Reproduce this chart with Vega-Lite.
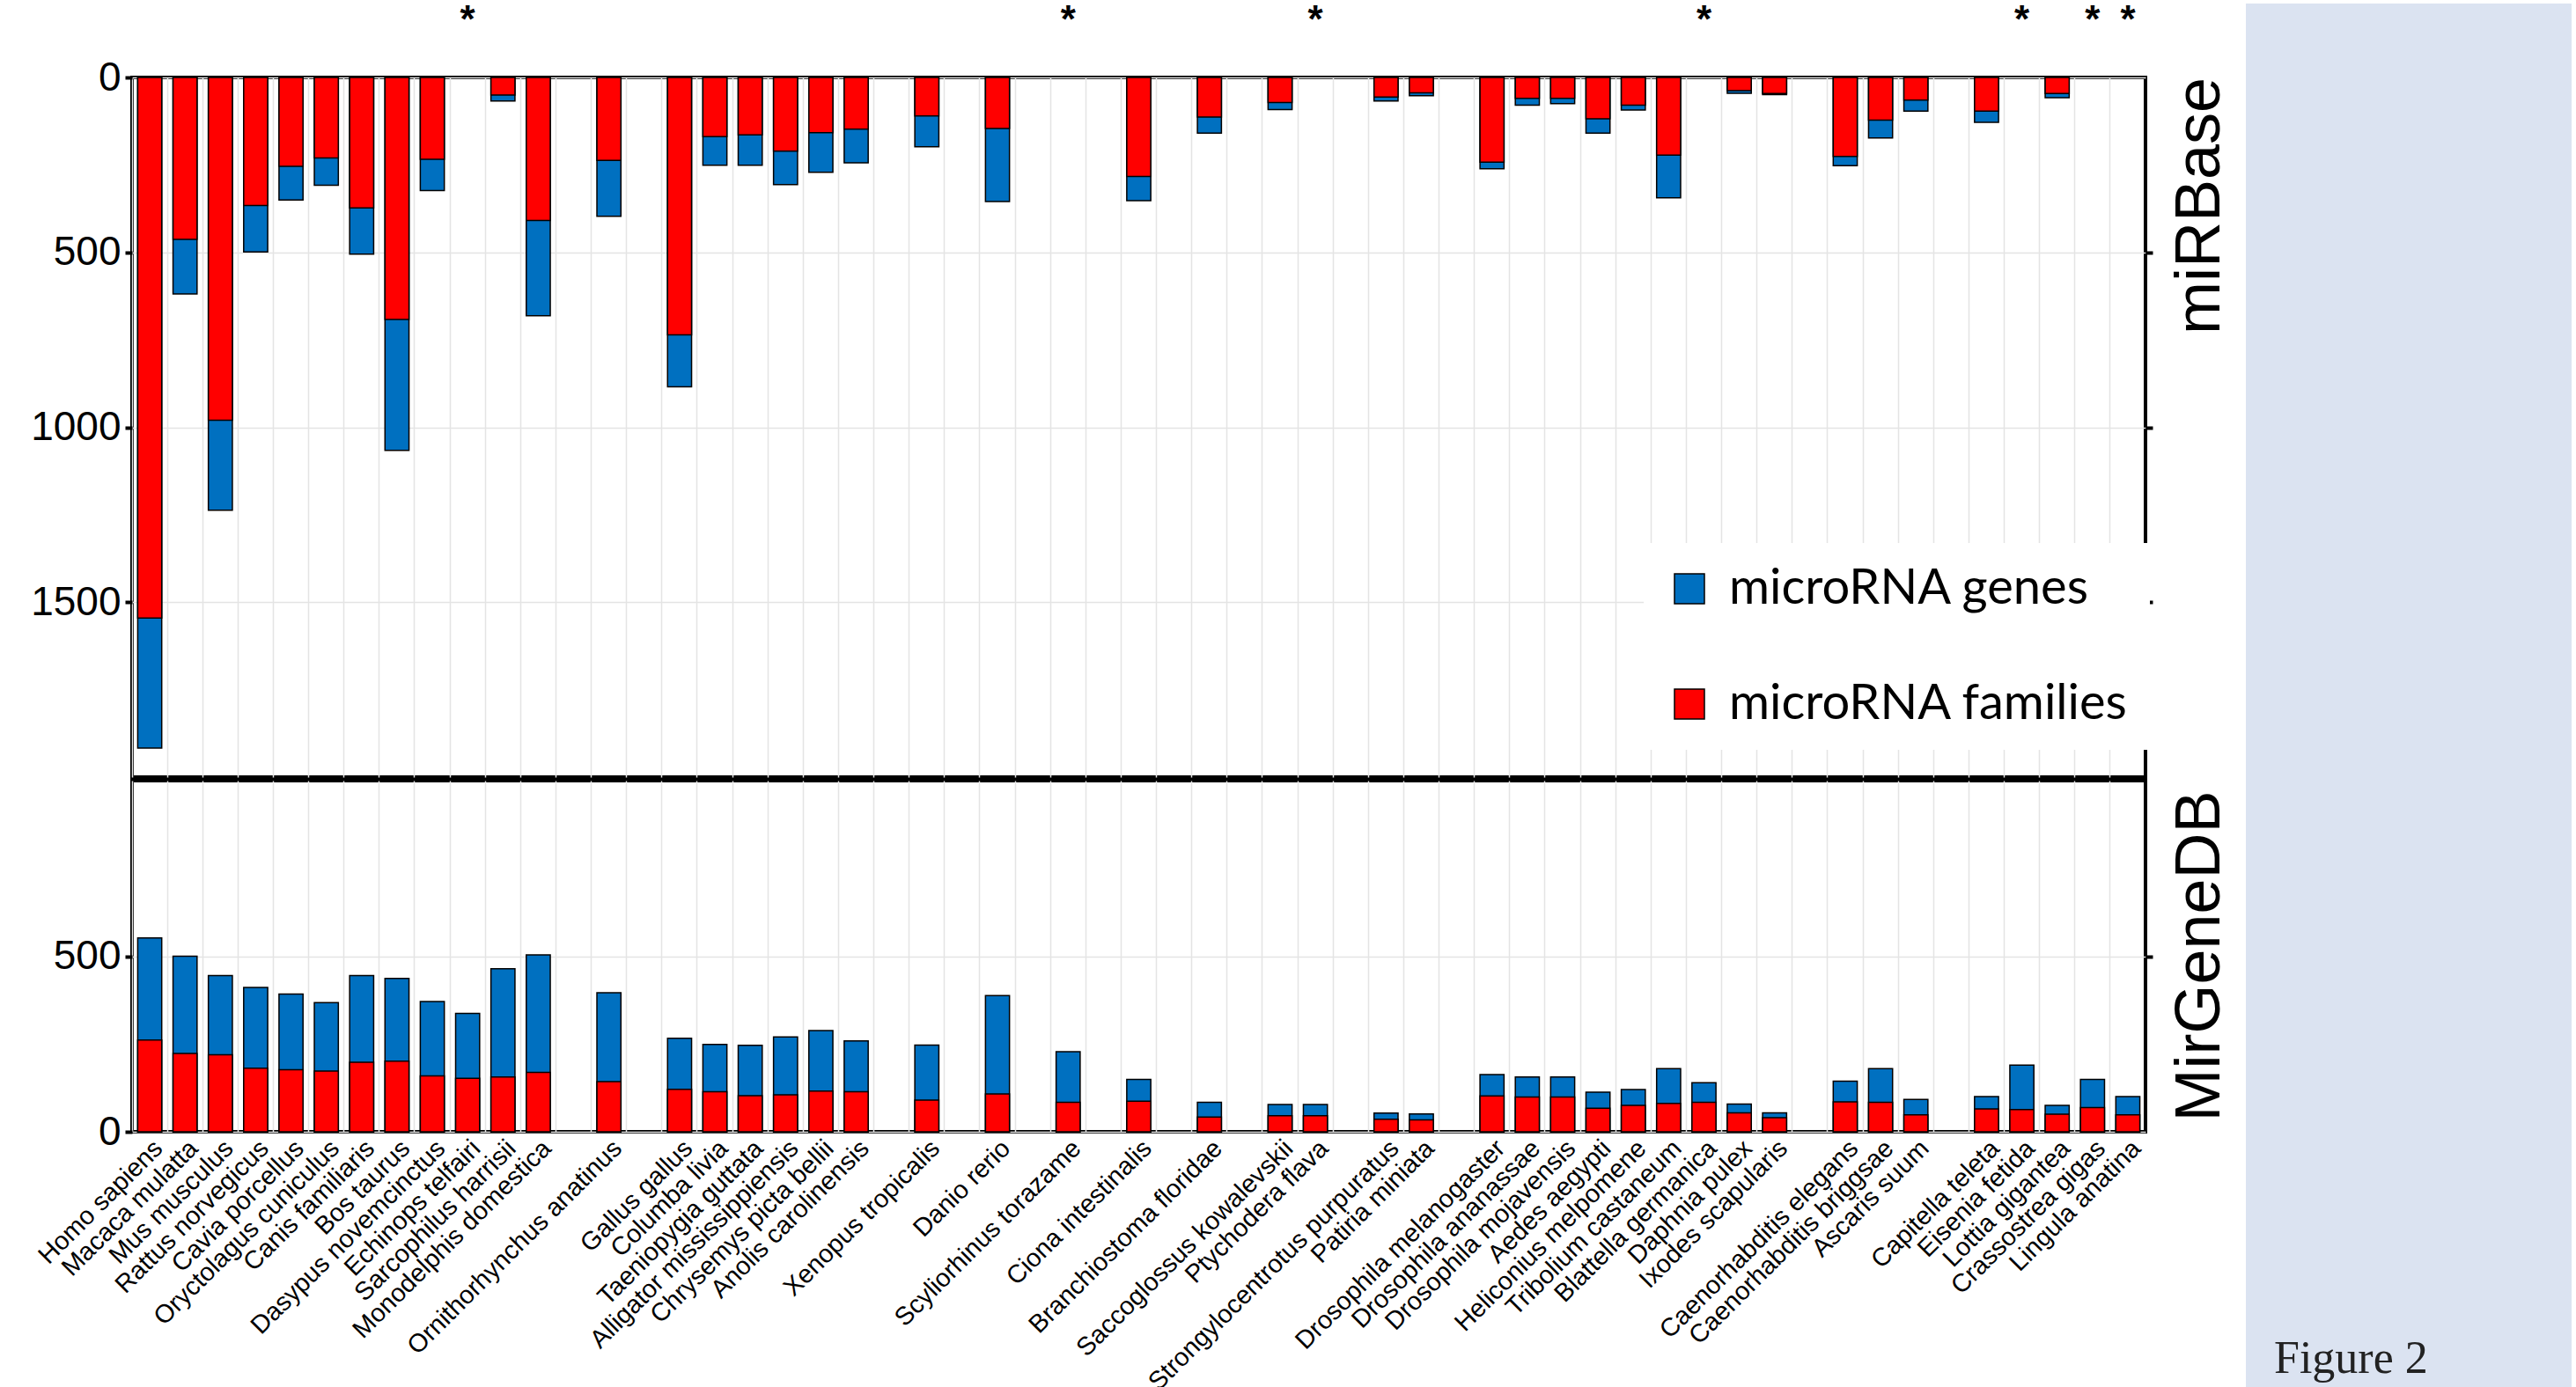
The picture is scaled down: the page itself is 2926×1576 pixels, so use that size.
{
  "$schema": "https://vega.github.io/schema/vega-lite/v6.json",
  "background": "white",
  "padding": {"left": 32, "top": 0, "right": 0, "bottom": 0},
  "spacing": 14,
  "columns": 2,
  "align": "none",
  "datasets": {
    "mirbase": [
      {"species": "Homo sapiens", "genes": 1917, "families": 1545},
      {"species": "Macaca mulatta", "genes": 619, "families": 463},
      {"species": "Mus musculus", "genes": 1237, "families": 980},
      {"species": "Rattus norvegicus", "genes": 499, "families": 366},
      {"species": "Cavia porcellus", "genes": 350, "families": 254},
      {"species": "Oryctolagus cuniculus", "genes": 308, "families": 230},
      {"species": "Canis familiaris", "genes": 505, "families": 373},
      {"species": "Bos taurus", "genes": 1066, "families": 692},
      {"species": "Dasypus novemcinctus", "genes": 323, "families": 234},
      {"species": "Sarcophilus harrisii", "genes": 67, "families": 50},
      {"species": "Monodelphis domestica", "genes": 681, "families": 409},
      {"species": "Ornithorhynchus anatinus", "genes": 397, "families": 237},
      {"species": "Gallus gallus", "genes": 884, "families": 736},
      {"species": "Columba livia", "genes": 251, "families": 169},
      {"species": "Taeniopygia guttata", "genes": 251, "families": 164},
      {"species": "Alligator mississippiensis", "genes": 306, "families": 211},
      {"species": "Chrysemys picta bellii", "genes": 271, "families": 158},
      {"species": "Anolis carolinensis", "genes": 244, "families": 148},
      {"species": "Xenopus tropicalis", "genes": 198, "families": 110},
      {"species": "Danio rerio", "genes": 355, "families": 146},
      {"species": "Ciona intestinalis", "genes": 352, "families": 283},
      {"species": "Branchiostoma floridae", "genes": 159, "families": 113},
      {"species": "Saccoglossus kowalevskii", "genes": 92, "families": 72},
      {"species": "Strongylocentrotus purpuratus", "genes": 67, "families": 56},
      {"species": "Patiria miniata", "genes": 52, "families": 44},
      {"species": "Drosophila melanogaster", "genes": 261, "families": 242},
      {"species": "Drosophila ananassae", "genes": 79, "families": 60},
      {"species": "Drosophila mojavensis", "genes": 75, "families": 60},
      {"species": "Aedes aegypti", "genes": 159, "families": 118},
      {"species": "Heliconius melpomene", "genes": 93, "families": 79},
      {"species": "Tribolium castaneum", "genes": 344, "families": 222},
      {"species": "Daphnia pulex", "genes": 45, "families": 38},
      {"species": "Ixodes scapularis", "genes": 49, "families": 46},
      {"species": "Caenorhabditis elegans", "genes": 252, "families": 226},
      {"species": "Caenorhabditis briggsae", "genes": 173, "families": 122},
      {"species": "Ascaris suum", "genes": 96, "families": 65},
      {"species": "Capitella teleta", "genes": 128, "families": 96},
      {"species": "Lottia gigantea", "genes": 58, "families": 46}
    ],
    "mirgenedb": [
      {"species": "Homo sapiens", "genes": 552, "families": 261},
      {"species": "Macaca mulatta", "genes": 500, "families": 223},
      {"species": "Mus musculus", "genes": 445, "families": 219},
      {"species": "Rattus norvegicus", "genes": 411, "families": 181},
      {"species": "Cavia porcellus", "genes": 392, "families": 177},
      {"species": "Oryctolagus cuniculus", "genes": 368, "families": 173},
      {"species": "Canis familiaris", "genes": 445, "families": 198},
      {"species": "Bos taurus", "genes": 437, "families": 201},
      {"species": "Dasypus novemcinctus", "genes": 371, "families": 159},
      {"species": "Echinops telfairi", "genes": 337, "families": 152},
      {"species": "Sarcophilus harrisii", "genes": 464, "families": 156},
      {"species": "Monodelphis domestica", "genes": 504, "families": 169},
      {"species": "Ornithorhynchus anatinus", "genes": 396, "families": 143},
      {"species": "Gallus gallus", "genes": 266, "families": 121},
      {"species": "Columba livia", "genes": 249, "families": 114},
      {"species": "Taeniopygia guttata", "genes": 246, "families": 103},
      {"species": "Alligator mississippiensis", "genes": 270, "families": 105},
      {"species": "Chrysemys picta bellii", "genes": 288, "families": 116},
      {"species": "Anolis carolinensis", "genes": 259, "families": 114},
      {"species": "Xenopus tropicalis", "genes": 247, "families": 90},
      {"species": "Danio rerio", "genes": 388, "families": 108},
      {"species": "Scyliorhinus torazame", "genes": 228, "families": 84},
      {"species": "Ciona intestinalis", "genes": 149, "families": 87},
      {"species": "Branchiostoma floridae", "genes": 84, "families": 42},
      {"species": "Saccoglossus kowalevskii", "genes": 78, "families": 46},
      {"species": "Ptychodera flava", "genes": 78, "families": 46},
      {"species": "Strongylocentrotus purpuratus", "genes": 53, "families": 36},
      {"species": "Patiria miniata", "genes": 51, "families": 34},
      {"species": "Drosophila melanogaster", "genes": 163, "families": 102},
      {"species": "Drosophila ananassae", "genes": 156, "families": 99},
      {"species": "Drosophila mojavensis", "genes": 156, "families": 99},
      {"species": "Aedes aegypti", "genes": 113, "families": 67},
      {"species": "Heliconius melpomene", "genes": 120, "families": 75},
      {"species": "Tribolium castaneum", "genes": 180, "families": 81},
      {"species": "Blattella germanica", "genes": 140, "families": 84},
      {"species": "Daphnia pulex", "genes": 79, "families": 54},
      {"species": "Ixodes scapularis", "genes": 54, "families": 40},
      {"species": "Caenorhabditis elegans", "genes": 144, "families": 85},
      {"species": "Caenorhabditis briggsae", "genes": 180, "families": 84},
      {"species": "Ascaris suum", "genes": 92, "families": 48},
      {"species": "Capitella teleta", "genes": 100, "families": 65},
      {"species": "Eisenia fetida", "genes": 190, "families": 63},
      {"species": "Lottia gigantea", "genes": 75, "families": 50},
      {"species": "Crassostrea gigas", "genes": 149, "families": 69},
      {"species": "Lingula anatina", "genes": 100, "families": 48}
    ],
    "missing": [
      {"species": "Echinops telfairi"},
      {"species": "Scyliorhinus torazame"},
      {"species": "Ptychodera flava"},
      {"species": "Blattella germanica"},
      {"species": "Eisenia fetida"},
      {"species": "Crassostrea gigas"},
      {"species": "Lingula anatina"}
    ]
  },
  "config": {
    "view": {"stroke": "black", "strokeWidth": 4},
    "font": "Liberation Sans",
    "axis": {"labelFont": "Liberation Sans", "labelColor": "black", "titleFont": "Liberation Sans"},
    "title": {"font": "Liberation Sans", "fontWeight": "normal", "color": "black"}
  },
  "resolve": {"scale": {"color": "independent"}, "legend": {"color": "independent"}},
  "concat": [
    {
      "spacing": 0,
      "resolve": {"scale": {"color": "independent"}, "legend": {"color": "independent"}},
      "vconcat": [
        {
          "width": 2287,
          "height": 795,
          "title": {"text": "miRBase", "orient": "right", "anchor": "start", "frame": "group", "angle": -90, "align": "right", "baseline": "top", "fontSize": 72, "offset": -55},
          "resolve": {"axis": {"y": "independent"}},
          "layer": [
            {
              "data": {"name": "mirbase"},
              "mark": {"type": "bar", "width": {"band": 0.68}, "stroke": "black", "strokeWidth": 1.5},
              "encoding": {
                "x": {
                  "field": "species", "type": "nominal", "sort": null,
                  "scale": {
                    "paddingInner": 0, "paddingOuter": 0,
                    "domain": ["Homo sapiens", "Macaca mulatta", "Mus musculus", "Rattus norvegicus", "Cavia porcellus", "Oryctolagus cuniculus", "Canis familiaris", "Bos taurus", "Dasypus novemcinctus", "Echinops telfairi", "Sarcophilus harrisii", "Monodelphis domestica", "gap1", "Ornithorhynchus anatinus", "gap2", "Gallus gallus", "Columba livia", "Taeniopygia guttata", "Alligator mississippiensis", "Chrysemys picta bellii", "Anolis carolinensis", "gap3", "Xenopus tropicalis", "gap4", "Danio rerio", "gap5", "Scyliorhinus torazame", "gap6", "Ciona intestinalis", "gap7", "Branchiostoma floridae", "gap8", "Saccoglossus kowalevskii", "Ptychodera flava", "gap9", "Strongylocentrotus purpuratus", "Patiria miniata", "gap10", "Drosophila melanogaster", "Drosophila ananassae", "Drosophila mojavensis", "Aedes aegypti", "Heliconius melpomene", "Tribolium castaneum", "Blattella germanica", "Daphnia pulex", "Ixodes scapularis", "gap11", "Caenorhabditis elegans", "Caenorhabditis briggsae", "Ascaris suum", "gap12", "Capitella teleta", "Eisenia fetida", "Lottia gigantea", "Crassostrea gigas", "Lingula anatina"]
                  },
                  "axis": {"labels": false, "ticks": false, "domain": false, "grid": true, "bandPosition": 0, "gridColor": "#e4e4e4", "gridWidth": 1.5, "title": null}
                },
                "y": {
                  "field": "genes", "type": "quantitative", "stack": null,
                  "scale": {"domain": [0, 2000], "reverse": true, "nice": false},
                  "axis": {"orient": "left", "values": [0, 500, 1000, 1500], "format": "d", "title": null, "grid": true, "gridColor": "#e4e4e4", "gridWidth": 1.5, "domain": false, "tickColor": "black", "tickSize": 8, "tickWidth": 4, "labelFontSize": 46, "labelPadding": 5}
                },
                "color": {
                  "datum": "microRNA genes", "type": "nominal",
                  "scale": {"domain": ["microRNA genes", "microRNA families"], "range": ["#0070c0", "#ff0000"]},
                  "legend": {"orient": "none", "legendX": 1717, "legendY": 529, "title": null, "padding": 24, "fillColor": "white", "symbolType": "square", "symbolSize": 1156, "symbolStrokeColor": "black", "symbolStrokeWidth": 1.5, "labelFont": "Lato", "labelFontSize": 56, "labelColor": "black", "labelOffset": 17, "rowPadding": 75, "labelLimit": 0}
                }
              }
            },
            {
              "data": {"name": "mirbase"},
              "mark": {"type": "bar", "width": {"band": 0.68}, "stroke": "black", "strokeWidth": 1.5},
              "encoding": {
                "x": {"field": "species", "type": "nominal", "sort": null},
                "y": {"field": "families", "type": "quantitative", "stack": null, "axis": {"orient": "right", "values": [500, 1000, 1500], "labels": false, "title": null, "grid": false, "domain": false, "tickColor": "black", "tickSize": 8, "tickWidth": 4}},
                "color": {"datum": "microRNA families", "type": "nominal"}
              }
            },
            {
              "data": {"name": "missing"},
              "mark": {"type": "text", "fontSize": 44, "fontWeight": "bold", "baseline": "middle", "color": "black"},
              "encoding": {
                "x": {"field": "species", "type": "nominal", "sort": null},
                "y": {"datum": -160, "axis": null},
                "text": {"value": "*"}
              }
            }
          ]
        },
        {
          "width": 2287,
          "height": 399,
          "title": {"text": "MirGeneDB", "orient": "right", "anchor": "middle", "frame": "group", "angle": -90, "align": "center", "baseline": "top", "fontSize": 72, "offset": -55},
          "resolve": {"axis": {"x": "independent", "y": "independent"}},
          "layer": [
            {
              "data": {"name": "mirgenedb"},
              "mark": {"type": "bar", "width": {"band": 0.68}, "stroke": "black", "strokeWidth": 1.5},
              "encoding": {
                "x": {
                  "field": "species", "type": "nominal", "sort": null,
                  "scale": {
                    "paddingInner": 0, "paddingOuter": 0,
                    "domain": ["Homo sapiens", "Macaca mulatta", "Mus musculus", "Rattus norvegicus", "Cavia porcellus", "Oryctolagus cuniculus", "Canis familiaris", "Bos taurus", "Dasypus novemcinctus", "Echinops telfairi", "Sarcophilus harrisii", "Monodelphis domestica", "gap1", "Ornithorhynchus anatinus", "gap2", "Gallus gallus", "Columba livia", "Taeniopygia guttata", "Alligator mississippiensis", "Chrysemys picta bellii", "Anolis carolinensis", "gap3", "Xenopus tropicalis", "gap4", "Danio rerio", "gap5", "Scyliorhinus torazame", "gap6", "Ciona intestinalis", "gap7", "Branchiostoma floridae", "gap8", "Saccoglossus kowalevskii", "Ptychodera flava", "gap9", "Strongylocentrotus purpuratus", "Patiria miniata", "gap10", "Drosophila melanogaster", "Drosophila ananassae", "Drosophila mojavensis", "Aedes aegypti", "Heliconius melpomene", "Tribolium castaneum", "Blattella germanica", "Daphnia pulex", "Ixodes scapularis", "gap11", "Caenorhabditis elegans", "Caenorhabditis briggsae", "Ascaris suum", "gap12", "Capitella teleta", "Eisenia fetida", "Lottia gigantea", "Crassostrea gigas", "Lingula anatina"]
                  },
                  "axis": {"orient": "bottom", "labelAngle": -45, "labelFontSize": 29, "labelPadding": 4, "labelLimit": 0, "labelOverlap": false, "labelExpr": "indexof(datum.label, 'gap') === 0 ? '' : datum.label", "grid": false, "ticks": false, "domain": false, "title": null}
                },
                "y": {
                  "field": "genes", "type": "quantitative", "stack": null,
                  "scale": {"domain": [0, 1000], "nice": false},
                  "axis": {"orient": "left", "values": [0, 500], "format": "d", "title": null, "grid": true, "gridColor": "#e4e4e4", "gridWidth": 1.5, "domain": false, "tickColor": "black", "tickSize": 8, "tickWidth": 4, "labelFontSize": 46, "labelPadding": 5}
                },
                "color": {"datum": "microRNA genes", "type": "nominal", "scale": {"domain": ["microRNA genes", "microRNA families"], "range": ["#0070c0", "#ff0000"]}, "legend": null}
              }
            },
            {
              "data": {"name": "mirgenedb"},
              "mark": {"type": "bar", "width": {"band": 0.68}, "stroke": "black", "strokeWidth": 1.5},
              "encoding": {
                "x": {"field": "species", "type": "nominal", "sort": null, "axis": {"orient": "top", "labels": false, "ticks": false, "domain": false, "grid": true, "bandPosition": 0, "gridColor": "#e4e4e4", "gridWidth": 1.5, "title": null}},
                "y": {"field": "families", "type": "quantitative", "stack": null, "axis": {"orient": "right", "values": [500], "labels": false, "title": null, "grid": false, "domain": false, "tickColor": "black", "tickSize": 8, "tickWidth": 4}},
                "color": {"datum": "microRNA families", "type": "nominal", "legend": null}
              }
            }
          ]
        }
      ]
    },
    {
      "width": 370,
      "height": 1490,
      "view": {"fill": "#dbe3f1", "stroke": null},
      "title": {"text": "Figure 2", "orient": "bottom", "anchor": "start", "frame": "group", "offset": -18, "dx": 32, "baseline": "alphabetic", "font": "Liberation Serif", "fontSize": 52, "color": "#222222"},
      "data": {"values": [{"note": "Figure 2"}]},
      "mark": {"type": "rect", "color": "#dbe3f1", "stroke": null},
      "encoding": {
        "x": {"datum": 0, "type": "quantitative", "scale": {"domain": [0, 1], "nice": false, "zero": false}, "axis": null},
        "x2": {"datum": 1},
        "y": {"datum": 0, "type": "quantitative", "scale": {"domain": [0, 1], "nice": false, "zero": false}, "axis": null},
        "y2": {"datum": 1.0564}
      }
    }
  ]
}
